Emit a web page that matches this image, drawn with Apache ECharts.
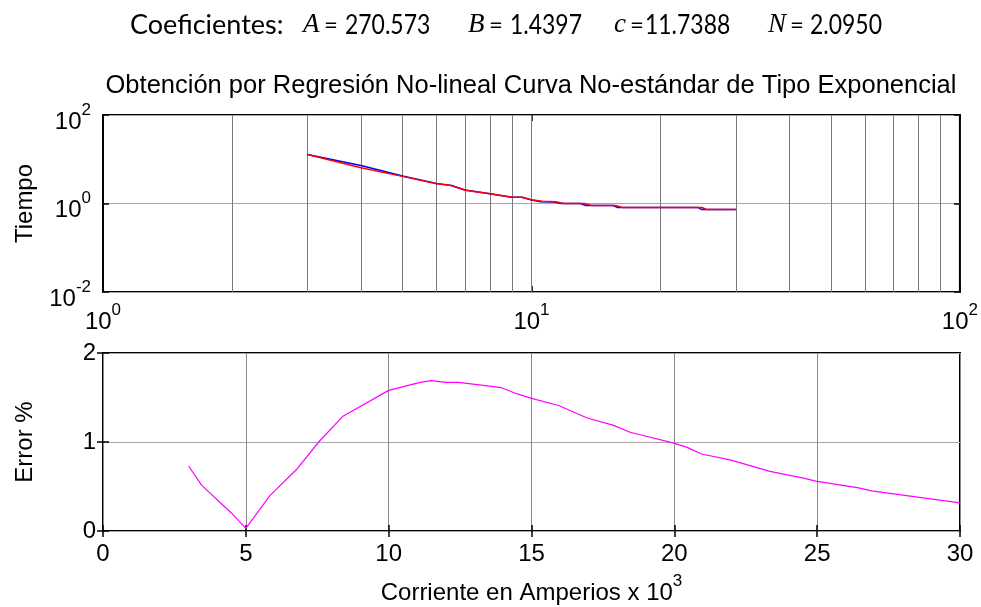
<!DOCTYPE html>
<html><head><meta charset="utf-8">
<script src="https://cdn.jsdelivr.net/npm/echarts@6/dist/echarts.min.js"></script>
<style>html,body{margin:0;padding:0;background:#fff}#c{width:981px;height:607px}</style>
</head><body><div id="c"></div>
<script>
// ---- data ----
const measuredCurrent = [3, 4, 5, 6, 6.5, 7, 8, 9, 9.5, 10, 10.5, 11.3, 11.7, 13.0, 13.4, 15.5, 15.9, 24.5, 25.0, 30];
const measuredTime    = [12.8, 7.2, 4.2, 2.85, 2.55, 2.02, 1.66, 1.39, 1.39, 1.2, 1.1, 1.08, 1.0, 1.0, 0.9, 0.9, 0.81, 0.81, 0.73, 0.73];
const fitCurrent      = [3, 4, 5, 6, 6.5, 7, 8, 9, 9.5, 10, 10.6, 11.4, 11.9, 13.3, 13.8, 15.7, 16.3, 25.0, 25.6, 30];
const fitTime         = [12.8, 6.4, 4.1, 2.8, 2.55, 2.0, 1.66, 1.39, 1.39, 1.22, 1.13, 1.09, 1.0, 1.0, 0.9, 0.9, 0.81, 0.81, 0.73, 0.73];
const errorCurrent = [3, 3.45, 4.5, 5, 5.85, 6.8, 7.55, 8.4, 10, 11.1, 11.5, 12, 12.45, 13.95, 14.5, 15, 15.95, 16.95, 17.85, 18.45, 19.95, 20.45, 20.95, 21.95, 23.35, 23.95, 24.45, 24.95, 26.45, 26.9, 30];
const errorPct     = [0.73, 0.515, 0.2, 0.03, 0.40, 0.70, 1.0, 1.29, 1.58, 1.67, 1.69, 1.67, 1.67, 1.61, 1.54, 1.49, 1.41, 1.27, 1.19, 1.11, 0.99, 0.94, 0.865, 0.80, 0.67, 0.63, 0.60, 0.56, 0.485, 0.45, 0.315];
const logGridValues = [2, 3, 4, 5, 6, 7, 8, 9, 10, 20, 30, 40, 50, 60, 70, 80, 90];
const titleText = 'Obtención por Regresión No-lineal Curva No-estándar de Tipo Exponencial';
const coefLabels = ['A', 'B', 'c', 'N'];
const coefValues = ['270.573', '1.4397', '11.7388', '2.0950'];

// ---- chart ----
const F = '"Liberation Sans", Arial, sans-serif';
const CF = 'Lato, "Liberation Sans", sans-serif';
const chart = echarts.init(document.getElementById('c'), null, {renderer: 'canvas'});
const zip = (a, b) => a.map((v, i) => [v, b[i]]);

const supRich = {
  b: {fontSize: 24, fontFamily: F, color: '#000', lineHeight: 24, padding: [14, 0, 0, 0]},
  s: {fontSize: 17, fontFamily: F, color: '#000', lineHeight: 17, padding: [0, 0, 10, 0]}
};
const powFmt = v => '{b|10}{s|' + String(Math.round(Math.log10(v))) + '}';
const tick = {show: true, inside: true, length: 6, lineStyle: {color: '#000', width: 1.5}};
const noLine = {show: false};
const g0 = {left: 103, right: 21, top: 115, height: 177, show: true, borderColor: '#000', borderWidth: 2, backgroundColor: 'transparent'};
const g1 = {left: 103, right: 21, top: 353, height: 178, show: true, borderColor: '#000', borderWidth: 2, backgroundColor: 'transparent'};

const option = {
  animation: false,
  backgroundColor: '#fff',
  grid: [g0, g1],
  xAxis: [
    {gridIndex: 0, type: 'log', logBase: 10, min: 1, max: 100, interval: 1, position: 'bottom',
     axisLine: noLine, axisTick: tick, splitLine: {show: false},
     axisLabel: {formatter: powFmt, rich: supRich, margin: 11, hideOverlap: false, showMinLabel: true, showMaxLabel: true}},
    {gridIndex: 0, type: 'log', logBase: 10, min: 1, max: 100, interval: 1, position: 'top',
     axisLine: noLine, axisTick: tick, axisLabel: {show: false}, splitLine: {show: false}},
    {gridIndex: 1, type: 'value', min: 0, max: 30, interval: 5, position: 'bottom',
     axisLine: noLine, axisTick: tick,
     splitLine: {show: true, lineStyle: {color: '#8a8a8a', width: 1}},
     axisLabel: {fontSize: 24, fontFamily: F, color: '#000', margin: 11},
     name: '{n|Corriente en Amperios x 10}{s|3}', nameLocation: 'middle', nameGap: 39,
     nameTextStyle: {rich: {
       n: {fontSize: 24, fontFamily: F, color: '#000', lineHeight: 24, padding: [14, 0, 0, 0]},
       s: {fontSize: 17, fontFamily: F, color: '#000', lineHeight: 17, padding: [0, 0, 10, 0]}}}},
    {gridIndex: 1, type: 'value', min: 0, max: 30, interval: 5, position: 'top',
     axisLine: noLine, axisTick: tick, axisLabel: {show: false}, splitLine: {show: false}}
  ],
  yAxis: [
    {gridIndex: 0, type: 'log', logBase: 10, min: 0.01, max: 100, interval: 2, position: 'left',
     axisLine: noLine, axisTick: tick,
     splitLine: {show: true, lineStyle: {color: '#a8a8a8', width: 1}},
     axisLabel: {formatter: powFmt, rich: supRich, margin: 12, showMinLabel: true, showMaxLabel: true},
     name: 'Tiempo', nameLocation: 'middle', nameGap: 66, nameRotate: 90,
     nameTextStyle: {fontSize: 24, fontFamily: F, color: '#000'}},
    {gridIndex: 0, type: 'log', logBase: 10, min: 0.01, max: 100, interval: 2, position: 'right',
     axisLine: noLine, axisTick: tick, axisLabel: {show: false}, splitLine: {show: false}},
    {gridIndex: 1, type: 'value', min: 0, max: 2, interval: 1, position: 'left',
     axisLine: noLine, axisTick: tick,
     splitLine: {show: true, lineStyle: {color: '#a8a8a8', width: 1}},
     axisLabel: {fontSize: 24, fontFamily: F, color: '#000', margin: 7},
     name: 'Error %', nameLocation: 'middle', nameGap: 66, nameRotate: 90,
     nameTextStyle: {fontSize: 24, fontFamily: F, color: '#000'}},
    {gridIndex: 1, type: 'value', min: 0, max: 2, interval: 1, position: 'right',
     axisLine: noLine, axisTick: tick, axisLabel: {show: false}, splitLine: {show: false}}
  ],
  series: [
    {type: 'line', xAxisIndex: 0, yAxisIndex: 0, data: zip(measuredCurrent, measuredTime),
     showSymbol: false, symbol: 'none', lineStyle: {color: '#0000ff', width: 1.5}, z: 3,
     markLine: {silent: true, symbol: 'none', label: {show: false},
       lineStyle: {color: '#7a7a7a', width: 1, type: 'solid'},
       data: logGridValues.map(v => ({xAxis: v})), z: 1}},
    {type: 'line', xAxisIndex: 0, yAxisIndex: 0, data: zip(fitCurrent, fitTime),
     showSymbol: false, symbol: 'none', lineStyle: {color: '#ff0000', width: 1.5}, z: 4},
    {type: 'line', xAxisIndex: 2, yAxisIndex: 2, data: zip(errorCurrent, errorPct),
     showSymbol: false, symbol: 'none', lineStyle: {color: '#ff00ff', width: 1.2}, z: 4}
  ],
  graphic: [
    {type: 'text', x: 531, y: 86, style: {text: titleText, font: '25.5px ' + F, fill: '#000', textAlign: 'center', textVerticalAlign: 'middle'}},
    {type: 'text', x: 130, y: 25, style: {text: 'Coeficientes:', font: '27px ' + CF, fill: '#000', textVerticalAlign: 'middle'}},
    ...[[303, 324, 345], [468, 489, 510], [614, 630, 645], [768, 790, 810]].flatMap((p, i) => [
      {type: 'text', x: p[0], y: 25, style: {text: coefLabels[i], font: 'italic 27px "Liberation Serif", serif', fill: '#000', textVerticalAlign: 'middle'}},
      {type: 'text', x: p[1], y: 25, style: {text: '=', font: '24px ' + CF, fill: '#000', textVerticalAlign: 'middle'}},
      {type: 'text', x: p[2], y: 25, scaleX: 0.85, style: {text: coefValues[i], font: '27px ' + CF, fill: '#000', textVerticalAlign: 'middle'}}
    ])
  ]
};
chart.setOption(option);
</script>
</body></html>
